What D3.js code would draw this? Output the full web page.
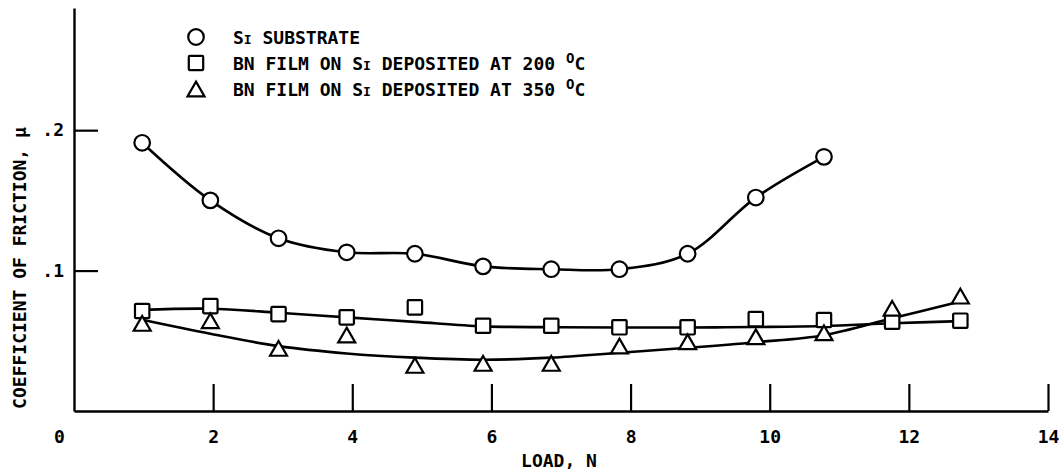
<!DOCTYPE html>
<html>
<head>
<meta charset="utf-8">
<script src="https://cdn.jsdelivr.net/npm/d3@7"></script>
<style>
  body { margin: 0; background: #fff; }
  svg { display: block; }
  text { font-family: "DejaVu Sans Mono", monospace; font-weight: bold; fill: #000; }
</style>
</head>
<body>
<div id="chart-area"></div>
<script>
// loads (N) and friction values
const loads = [0.98, 1.96, 2.94, 3.92, 4.90, 5.88, 6.86, 7.84, 8.82, 9.80, 10.78, 11.76, 12.74];
const siSubstrate = [0.191, 0.150, 0.123, 0.113, 0.112, 0.103, 0.101, 0.101, 0.112, 0.152, 0.181];
const bn200 = [0.0712, 0.0747, 0.0690, 0.0667, 0.0738, 0.0607, 0.0607, 0.0596, 0.0596, 0.0655, 0.0648, 0.0636, 0.0643];
const bn350 = [0.0624, 0.0643, 0.0446, 0.0541, 0.0325, 0.0339, 0.0339, 0.0463, 0.0493, 0.0529, 0.0557, 0.0731, 0.0818];

// faired curves as drawn on the plot (values at the same loads)
const bn200Curve = [0.0720, 0.0728, 0.0700, 0.0667, 0.0635, 0.0603, 0.0597, 0.0595, 0.0595, 0.0598, 0.0605, 0.0625, 0.0640];
const bn350Curve = [0.0650, 0.0550, 0.0462, 0.0410, 0.0380, 0.0365, 0.0380, 0.0415, 0.0450, 0.0490, 0.0540, 0.0660, 0.0780];

// axis ticks
const xTicks = [0, 2, 4, 6, 8, 10, 12, 14];
const yTicks = [0.1, 0.2];

const legendLabels = [
  { shape: 'circle', parts: ['S', 'I', ' SUBSTRATE'] },
  { shape: 'square', parts: ['BN FILM ON S', 'I', ' DEPOSITED AT 200 ', 'O', 'C'] },
  { shape: 'triangle', parts: ['BN FILM ON S', 'I', ' DEPOSITED AT 350 ', 'O', 'C'] }
];

const W = 1062, H = 472;
const margin = { left: 74, top: 8, right: 14, bottom: 61 };

const svg = d3.select('#chart-area').append('svg')
  .attr('width', W)
  .attr('height', H);

const x = d3.scaleLinear().domain([0, 14]).range([margin.left, W - margin.right]);
const y = d3.scaleLinear().domain([0, 0.287]).range([H - margin.bottom, margin.top]);

// x axis, ticks pointing up into the plot
const xAxis = svg.append('g')
  .attr('transform', `translate(0, ${y(0)})`)
  .call(d3.axisBottom(x).tickValues(xTicks).tickSizeInner(-27).tickSizeOuter(0).tickPadding(19))
xAxis.select('.domain').attr('stroke-width', 2.4)
xAxis.selectAll('.tick line').attr('stroke-width', 2.2)
xAxis.selectAll('.tick text').attr('font-size', '18px').attr('fill', '#000')
xAxis.selectAll('.tick').filter(d => d === 0).select('line').remove()
xAxis.selectAll('.tick').filter(d => d === 0).select('text').attr('x', -15)

// y axis, ticks pointing right
const yAxis = svg.append('g')
  .attr('transform', `translate(${x(0)}, 0)`)
  .call(d3.axisLeft(y).tickValues(yTicks).tickSizeInner(-24).tickSizeOuter(0).tickPadding(10)
    .tickFormat(d => d3.format('.1f')(d).replace('0.', '.')))
yAxis.select('.domain').attr('stroke-width', 2.4)
yAxis.selectAll('.tick line').attr('stroke-width', 2.2)
yAxis.selectAll('.tick text').attr('font-size', '18px').attr('fill', '#000')

// axis titles
svg.append('text')
  .attr('x', 559)
  .attr('y', 467)
  .attr('text-anchor', 'middle')
  .attr('font-size', '18px')
  .text('LOAD, N')

svg.append('text')
  .attr('transform', `translate(26, 268) rotate(-90)`)
  .attr('text-anchor', 'middle')
  .attr('font-size', '18px')
  .text('COEFFICIENT OF FRICTION, \u03bc')

// curves
const line = d3.line()
  .x(d => x(d[0]))
  .y(d => y(d[1]))
  .curve(d3.curveCatmullRom.alpha(0.5));

const curves = [
  siSubstrate.map((v, i) => [loads[i], v]),
  bn200Curve.map((v, i) => [loads[i], v]),
  bn350Curve.map((v, i) => [loads[i], v])
];

svg.selectAll('path.curve')
  .data(curves)
  .enter().append('path')
  .attr('class', 'curve')
  .attr('d', line)
  .attr('fill', 'none')
  .attr('stroke', '#000')
  .attr('stroke-width', 2.6)

// marker shapes
const triPath = (s) => {
  const h = s * Math.sqrt(3) / 2;
  return `M0,${-h / 2}L${s / 2},${h / 2}L${-s / 2},${h / 2}Z`;
}

function drawMarker(g, shape, cx, cy) {
  if (shape === 'circle') {
    g.append('circle').attr('cx', cx).attr('cy', cy).attr('r', 7.8)
  } else if (shape === 'square') {
    g.append('rect').attr('x', cx - 7.2).attr('y', cy - 7.2).attr('width', 14.4).attr('height', 14.4).attr('rx', 1)
  } else {
    g.append('path').attr('d', triPath(17)).attr('transform', `translate(${cx}, ${cy})`)
  }
}

const markers = svg.append('g')
  .attr('fill', '#fff')
  .attr('stroke', '#000')
  .attr('stroke-width', 2.2)
  .attr('stroke-linejoin', 'miter')

siSubstrate.forEach((v, i) => drawMarker(markers, 'circle', x(loads[i]), y(v)))
bn200.forEach((v, i) => drawMarker(markers, 'square', x(loads[i]), y(v)))
bn350.forEach((v, i) => drawMarker(markers, 'triangle', x(loads[i]), y(v)))

// legend
const legend = svg.append('g')
legendLabels.forEach((item, i) => {
  const rowY = 37 + i * 26;
  const sym = legend.append('g')
    .attr('fill', '#fff')
    .attr('stroke', '#000')
    .attr('stroke-width', 2.2)
  drawMarker(sym, item.shape, 196, rowY)

  const t = legend.append('text')
    .attr('x', 233)
    .attr('y', rowY + 7)
    .attr('font-size', '18px')
    .attr('xml:space', 'preserve')
  item.parts.forEach((p, k) => {
    const ts = t.append('tspan').text(p)
    if (p === 'I') ts.attr('font-size', '13px')
    if (p === 'O') ts.attr('font-size', '14px').attr('dy', -7)
    if (p === 'C') ts.attr('dy', 7)
  })
})
</script>
</body>
</html>
